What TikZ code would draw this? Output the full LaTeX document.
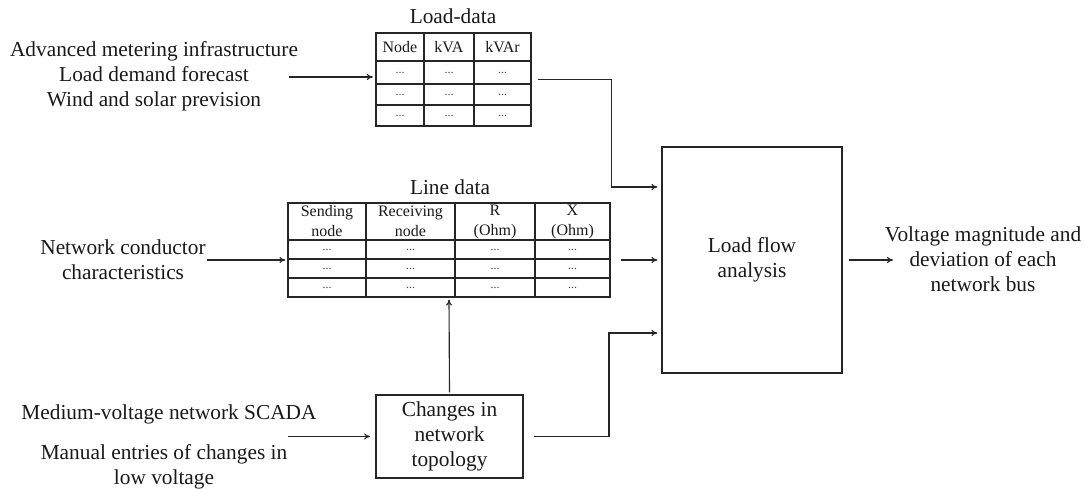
\documentclass[tikz,border=0pt]{standalone}
\usepackage{fontspec}
\setmainfont{Liberation Serif}
\usetikzlibrary{arrows.meta,calc}
\begin{document}
\begin{tikzpicture}[x=0.75pt,y=-0.75pt,
  line/.style={draw=black!85, line width=0.85pt},
  arr/.style={line, -{To[length=4.5pt,width=4.5pt]}},
  lbl/.style={font=\fontsize{16}{18.75}\selectfont, align=center, inner sep=0pt, text=black!90},
  cell/.style={font=\fontsize{12}{15}\selectfont, align=center, inner sep=0pt, text=black!90},
  dots/.style={font=\fontsize{9}{10}\selectfont, inner sep=0pt, text=black!75},
  box/.style={draw=black!85, line width=0.85pt, inner sep=0pt}]
\useasboundingbox (0,0) rectangle (1085,489);

% ---------- Load data table ----------
\node[lbl] (loadtitle) at (453,16) {Load-data};
\node[box, minimum width=116.25pt, minimum height=69.75pt] (loadtab) at (453.5,79.5) {};
\draw[line] (424,33) -- (424,126) (474,33) -- (474,126)
  (376,61) -- (531,61) (376,84) -- (531,84) (376,105) -- (531,105);
\node[cell] (ldh1) at (400,47) {Node};
\node[cell] (ldh2) at (449,47) {kVA};
\node[cell] (ldh3) at (502.5,47) {kVAr};
\foreach \c/\x in {1/400,2/449,3/502.5}{
  \foreach \r/\y in {1/72.5,2/94.5,3/115.5}{
    \node[dots] (ld\r\c) at (\x,\y) {...};
  }
}

% ---------- Line data table ----------
\node[lbl] (linetitle) at (450,187) {Line data};
\node[box, minimum width=241.5pt, minimum height=70.5pt] (linetab) at (449,250) {};
\draw[line] (366,203) -- (366,297) (455,203) -- (455,297) (535,203) -- (535,297)
  (288,240) -- (610,240) (288,259) -- (610,259) (288,278) -- (610,278);
\node[cell] (lnh1) at (327,221.5) {Sending\\node};
\node[cell] (lnh2) at (410.5,221.5) {Receiving\\node};
\node[cell] (lnh3) at (495,221.5) {R\\(Ohm)};
\node[cell] (lnh4) at (572.5,221.5) {X\\(Ohm)};
\foreach \c/\x in {1/327,2/410.5,3/495,4/572.5}{
  \foreach \r/\y in {1/249.5,2/268.5,3/287.5}{
    \node[dots] (ln\r\c) at (\x,\y) {...};
  }
}

% ---------- Boxes ----------
\node[box, minimum width=110.25pt, minimum height=62.25pt, lbl] (chg) at (449.5,436.5)
  {Changes in\\network\\topology};
\node[box, minimum width=135pt, minimum height=169.5pt, lbl] (lf) at (752,260)
  {Load flow\\analysis};

% ---------- Texts ----------
\node[lbl] (loadsrc) at (154,76) {Advanced metering infrastructure\\Load demand forecast\\Wind and solar prevision};
\node[lbl] (netsrc) at (123,259.5) {Network conductor\\characteristics};
\node[lbl] (scada) at (169,414) {Medium-voltage network SCADA};
\node[lbl] (manual) at (164,467) {Manual entries of changes in\\low voltage};
\node[lbl] (out) at (983,259) {Voltage magnitude and\\deviation of each\\network bus};

% ---------- Connectors ----------
\coordinate (loadin) at (289,77);
\draw[arr, shorten >=2pt] (loadin) -- (loadtab.west |- loadin);
\draw[arr, shorten <=4.5pt, shorten >=3pt] (loadtab.east) -- ++(80,0) |- ($(lf.west)+(0,-73)$);
\coordinate (netin) at (207,260);
\draw[arr, shorten >=1.5pt] (netin) -- (linetab.west |- netin);
\draw[arr, shorten <=7.5pt, shorten >=3pt] (linetab.east |- lf.west) -- (lf.west);
\draw[arr, shorten <=1.5pt, shorten >=1.5pt] (chg.north) -- (linetab.south);
\coordinate (chgin) at (288,436.5);
\draw[arr, shorten >=4pt] (chgin) -- (chg.west);
\draw[arr, shorten <=8pt, shorten >=3pt] (chg.east) -- (609,436.5) |- ($(lf.west)+(0,73)$);
\coordinate (outend) at (893,260);
\draw[arr, shorten <=4.5pt] (lf.east) -- (outend);
\end{tikzpicture}
\end{document}
